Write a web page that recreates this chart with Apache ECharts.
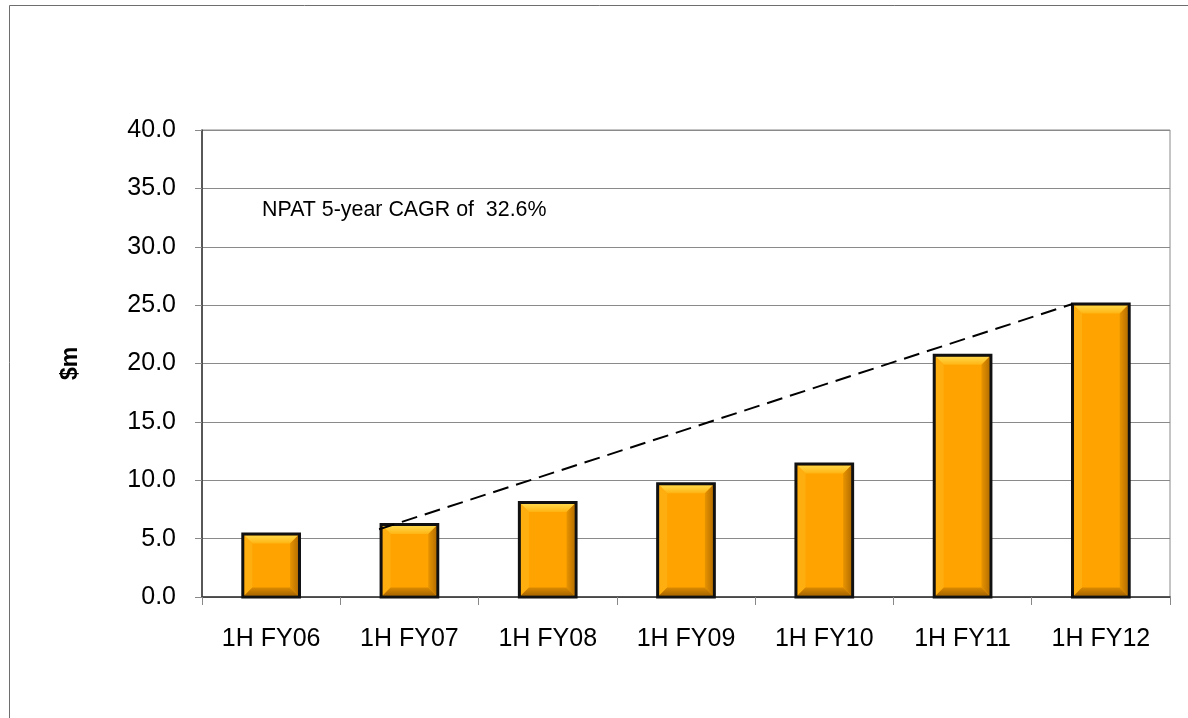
<!DOCTYPE html>
<html>
<head>
<meta charset="utf-8">
<style>
  html, body { margin: 0; padding: 0; background: #ffffff; }
  #chart { width: 1188px; height: 718px; }
</style>
<script src="https://cdn.jsdelivr.net/npm/echarts@6/dist/echarts.min.js"></script>
</head>
<body>
<div id="chart"></div>
<script>
// Half-year NPAT ($m)
const categories = ['1H FY06', '1H FY07', '1H FY08', '1H FY09', '1H FY10', '1H FY11', '1H FY12'];
const npat = [5.4, 6.2, 8.1, 9.7, 11.4, 20.7, 25.1];
const yTicks = [0, 5, 10, 15, 20, 25, 30, 35, 40];
const cagrNote = 'NPAT 5-year CAGR of  32.6%';
// growth line: from the FY07 bar to the FY12 bar
const trendFrom = { index: 1, value: 5.8 };
const trendTo = { index: 6, value: 25.1 };

const FONT = '"Liberation Sans", Arial, sans-serif';
const BAR_RATIO = 0.41;

const chart = echarts.init(document.getElementById('chart'), null, { renderer: 'canvas' });

function renderBar(params, api) {
  const idx = api.value(0);
  const top = api.coord([idx, api.value(1)]);
  const base = api.coord([idx, 0]);
  const bw = api.size([1, 0])[0] * BAR_RATIO;
  const l = top[0] - bw / 2, r = top[0] + bw / 2;
  const t = top[1], b = base[1];
  const bv = Math.min(8, (b - t) / 3);
  const il = l + 1.5, ir = r - 1.5, it = t + 1.5, ib = b - 1.5;
  return {
    type: 'group',
    children: [
      { type: 'rect', shape: { x: l, y: t, width: bw, height: b - t },
        style: { fill: '#FFA300', stroke: null } },
      // top bevel
      { type: 'polygon', shape: { points: [[il, it], [ir, it], [ir - bv, it + bv], [il + bv, it + bv]] },
        style: { fill: new echarts.graphic.LinearGradient(0, 0, 0, 1, [
          { offset: 0, color: '#FFD84A' }, { offset: 1, color: '#FFB412' }]) } },
      // left bevel
      { type: 'polygon', shape: { points: [[il, it], [il + bv, it + bv], [il + bv, ib - bv], [il, ib]] },
        style: { fill: '#FFAE10' } },
      // right bevel
      { type: 'polygon', shape: { points: [[ir, it], [ir, ib], [ir - bv, ib - bv], [ir - bv, it + bv]] },
        style: { fill: new echarts.graphic.LinearGradient(1, 0, 0, 0, [
          { offset: 0, color: '#B87000' }, { offset: 1, color: '#E89400' }]) } },
      // bottom bevel
      { type: 'polygon', shape: { points: [[il, ib], [ir, ib], [ir - bv, ib - bv], [il + bv, ib - bv]] },
        style: { fill: new echarts.graphic.LinearGradient(0, 1, 0, 0, [
          { offset: 0, color: '#A86600' }, { offset: 1, color: '#DB8A00' }]) } },
      // outline
      { type: 'rect', shape: { x: l, y: t, width: bw, height: b - t },
        style: { fill: null, stroke: '#111111', lineWidth: 3 } }
    ]
  };
}

const option = {
  backgroundColor: '#ffffff',
  animation: false,
  grid: {
    left: 202, top: 130, right: 18, bottom: 121,
    show: true, borderColor: '#8a8a8a', borderWidth: 1, backgroundColor: 'transparent'
  },
  xAxis: {
    type: 'category',
    data: categories,
    boundaryGap: true,
    axisLine: { show: true, lineStyle: { color: '#333333', width: 1.5 } },
    axisTick: { show: true, alignWithLabel: false, inside: false, length: 8, lineStyle: { color: '#888888' } },
    axisLabel: { color: '#000000', fontFamily: FONT, fontSize: 25, margin: 30 },
    splitLine: { show: false }
  },
  yAxis: {
    type: 'value',
    min: yTicks[0],
    max: yTicks[yTicks.length - 1],
    interval: yTicks[1] - yTicks[0],
    name: '$m',
    nameLocation: 'middle',
    nameRotate: 90,
    nameGap: 120,
    nameTextStyle: { color: '#000000', fontFamily: FONT, fontSize: 23, fontWeight: 'bold' },
    axisLine: { show: true, lineStyle: { color: '#333333', width: 1.5 } },
    axisTick: { show: true, inside: false, length: 7, lineStyle: { color: '#888888' } },
    axisLabel: { color: '#000000', fontFamily: FONT, fontSize: 25, margin: 26,
      formatter: v => v.toFixed(1) },
    splitLine: { show: true, lineStyle: { color: '#8a8a8a', width: 1 } }
  },
  series: [{
    type: 'custom',
    renderItem: renderBar,
    encode: { x: 0, y: 1 },
    data: npat.map((v, i) => [i, v]),
    z: 3
  }]
};

chart.setOption(option);

// Dashed growth line anchored on the left edges of the two bars
const p0 = chart.convertToPixel({ gridIndex: 0 }, [trendFrom.index, trendFrom.value]);
const p1 = chart.convertToPixel({ gridIndex: 0 }, [trendTo.index, trendTo.value]);
const catW = chart.convertToPixel({ gridIndex: 0 }, [1, 0])[0] - chart.convertToPixel({ gridIndex: 0 }, [0, 0])[0];
const half = catW * BAR_RATIO / 2;

chart.setOption({
  graphic: [
    { type: 'rect', z: -1, silent: true,
      shape: { x: 9.5, y: 5.5, width: 1300, height: 800 },
      style: { fill: null, stroke: '#6e6e6e', lineWidth: 1 } },
    { type: 'line', z: 10, silent: true,
      shape: { x1: p0[0] - half - 2, y1: p0[1], x2: p1[0] - half, y2: p1[1] },
      style: { stroke: '#000000', lineWidth: 2, lineDash: [16, 8] } },
    { type: 'text', x: 262, y: 210, z: 10, silent: true,
      style: { text: cagrNote, fill: '#000000', font: '21.4px ' + FONT, textVerticalAlign: 'middle' } }
  ]
});
</script>
</body>
</html>
